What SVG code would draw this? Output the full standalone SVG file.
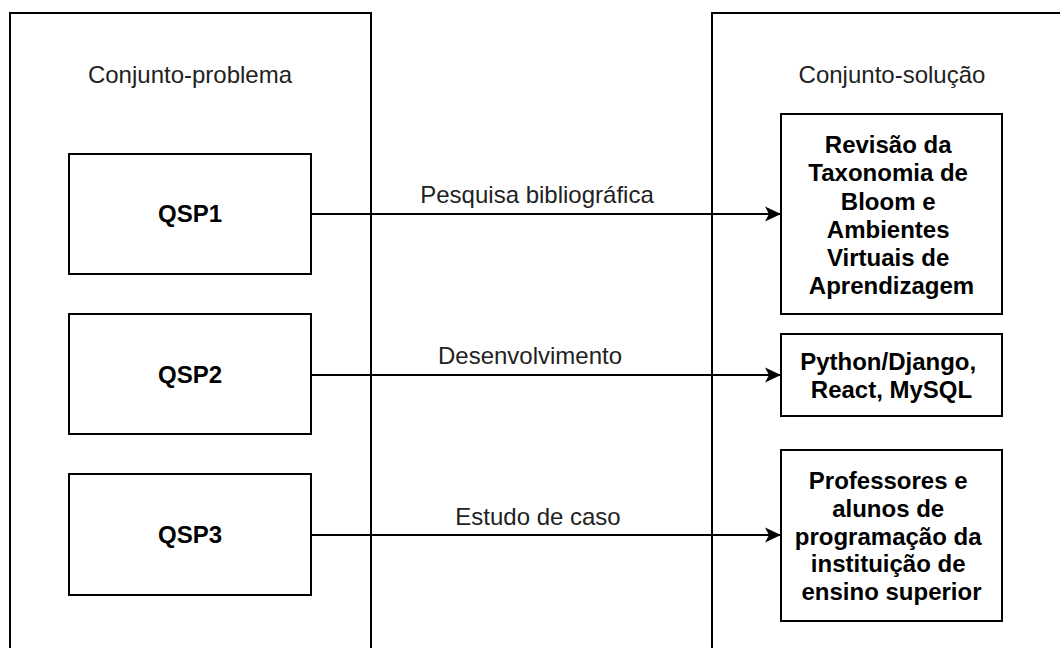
<svg xmlns="http://www.w3.org/2000/svg" width="1060" height="648" viewBox="0 0 1060 648">
  <style>
    .frame { fill: #ffffff; stroke: #000000; stroke-width: 2; }
    .box { fill: #ffffff; stroke: #000000; stroke-width: 2; }
    .title { font-family: "Liberation Sans", Arial, sans-serif; font-size: 24px; fill: #222222; text-anchor: middle; }
    .node { font-family: "Liberation Sans", Arial, sans-serif; font-size: 24px; font-weight: bold; fill: #000000; text-anchor: middle; }
    .edge { fill: none; stroke: #000000; stroke-width: 2; }
    .elabel { font-family: "Liberation Sans", Arial, sans-serif; font-size: 24px; fill: #222222; text-anchor: middle; }
  </style>
  <defs>
    <marker id="arrow" markerUnits="userSpaceOnUse" markerWidth="18" markerHeight="18" viewBox="0 0 18 18" refX="16" refY="9" orient="auto">
      <path d="M0,1.5 L16,9 L0,16.5 L4,9 Z" fill="#000000"/>
    </marker>
  </defs>
  <rect width="1060" height="648" fill="#ffffff"/>

  <!-- problem set container (open at the bottom) -->
  <g id="conjunto-problema">
    <path class="frame" d="M10,660 L10,13 L371,13 L371,660"/>
    <text class="title" x="190" y="83">Conjunto-problema</text>
  </g>

  <!-- solution set container (runs past the right edge) -->
  <g id="conjunto-solucao">
    <path class="frame" d="M712,660 L712,13 L1072,13 L1072,660"/>
    <text class="title" x="892" y="83">Conjunto-solução</text>
  </g>

  <!-- connectors -->
  <g id="connectors">
    <line class="edge" x1="311" y1="214" x2="781" y2="214" marker-end="url(#arrow)"/>
    <text class="elabel" x="537" y="203">Pesquisa bibliográfica</text>
    <line class="edge" x1="311" y1="375" x2="781" y2="375" marker-end="url(#arrow)"/>
    <text class="elabel" x="530" y="364">Desenvolvimento</text>
    <line class="edge" x1="311" y1="535" x2="781" y2="535" marker-end="url(#arrow)"/>
    <text class="elabel" x="538" y="525">Estudo de caso</text>
  </g>

  <g id="qsp1">
    <rect class="box" x="69" y="154" width="242" height="120"/>
    <text class="node" x="190" y="222">QSP1</text>
  </g>
  <g id="qsp2">
    <rect class="box" x="69" y="314" width="242" height="120"/>
    <text class="node" x="190" y="383">QSP2</text>
  </g>
  <g id="qsp3">
    <rect class="box" x="69" y="474" width="242" height="121"/>
    <text class="node" x="190" y="543">QSP3</text>
  </g>

  <g id="revisao">
    <rect class="box" x="781" y="114" width="221" height="200"/>
    <text class="node" x="891.5" y="153">
      <tspan x="891.5" y="153">Revisão da</tspan>
      <tspan x="891.5" y="181">Taxonomia de</tspan>
      <tspan x="891.5" y="209.5">Bloom e</tspan>
      <tspan x="891.5" y="238">Ambientes</tspan>
      <tspan x="891.5" y="266">Virtuais de</tspan>
      <tspan x="891.5" y="294">Aprendizagem</tspan>
    </text>
  </g>
  <g id="tecnologias">
    <rect class="box" x="781" y="334" width="221" height="82"/>
    <text class="node" x="891.5" y="370">
      <tspan x="891.5" y="370">Python/Django,</tspan>
      <tspan x="891.5" y="398">React, MySQL</tspan>
    </text>
  </g>
  <g id="participantes">
    <rect class="box" x="781" y="450" width="221" height="171"/>
    <text class="node" x="891.5" y="489">
      <tspan x="891.5" y="489">Professores e</tspan>
      <tspan x="891.5" y="517">alunos de</tspan>
      <tspan x="891.5" y="544.5">programação da</tspan>
      <tspan x="891.5" y="572">instituição de</tspan>
      <tspan x="891.5" y="599.5">ensino superior</tspan>
    </text>
  </g>
</svg>
